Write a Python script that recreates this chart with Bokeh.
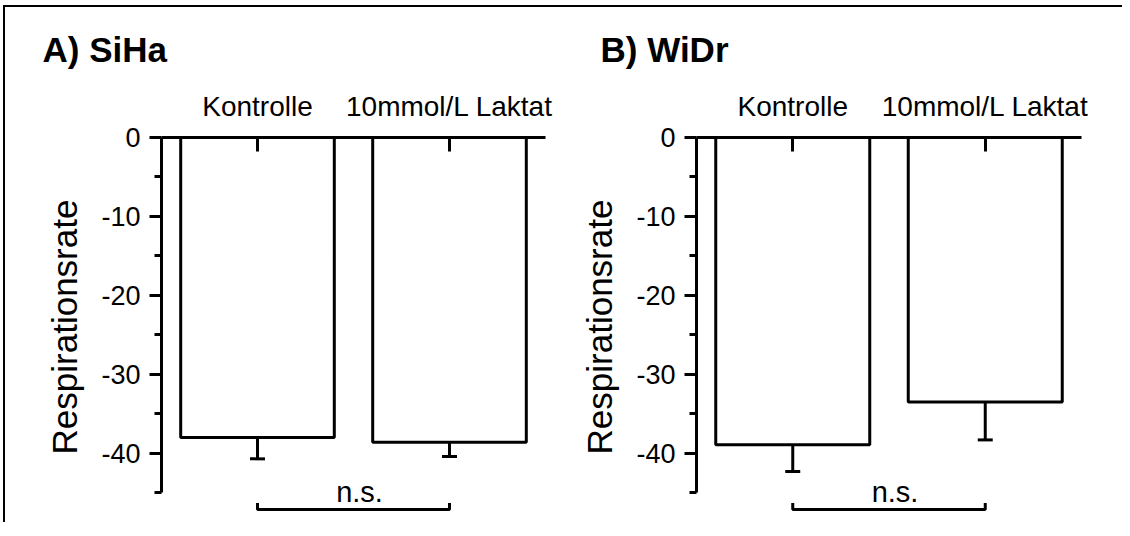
from bokeh.plotting import figure
from bokeh.models import Range1d, FixedTicker, Whisker, TeeHead, ColumnDataSource
from bokeh.layouts import row
from bokeh.transform import dodge
from bokeh.core.properties import value
from bokeh.embed import file_html
from bokeh.resources import INLINE

# ---- data ----
categories = ["Kontrolle", "10mmol/L Laktat"]
siha_values = [-38.0, -38.6]
siha_errors = [2.7, 1.8]
widr_values = [-38.9, -33.5]
widr_errors = [3.4, 4.8]
y_ticks = [0, -10, -20, -30, -40]
y_tick_labels = ["0", "-10", "-20", "-30", "-40"]
y_minor_ticks = [-5, -15, -25, -35, -45]
panel_titles = ["A) SiHa", "B) WiDr"]
y_label = "Respirationsrate"
significance = "n.s."

FONT = "Liberation Sans"
LW = 3


def make_panel(title, values, errors, width, border_left, border_right, title_offset):
    p = figure(x_range=categories, y_range=Range1d(-48, 0),
               width=width, height=515,
               min_border_left=border_left, min_border_right=border_right,
               min_border_top=130, min_border_bottom=6,
               x_axis_location="above",
               output_backend="svg", toolbar_location=None)
    p.outline_line_color = None
    p.xgrid.visible = False
    p.ygrid.visible = False
    p.background_fill_color = "white"
    p.border_fill_color = "white"

    p.title.text = title
    p.title.text_font = FONT
    p.title.text_font_size = "35px"
    p.title.text_font_style = "bold"
    p.title.text_color = "black"
    p.title.align = "left"
    p.title.offset = title_offset
    p.title.standoff = 38

    xa = p.xaxis[0]
    xa.axis_line_width = LW
    xa.major_tick_line_width = LW
    xa.major_tick_in = 14
    xa.major_tick_out = 0
    xa.minor_tick_line_color = None
    xa.major_label_text_font = FONT
    xa.major_label_text_font_size = "28px"
    xa.major_label_text_color = "black"
    xa.major_label_standoff = 16

    ya = p.yaxis[0]
    ya.bounds = (-45, 0)
    ya.ticker = FixedTicker(ticks=y_ticks, minor_ticks=y_minor_ticks)
    ya.major_label_overrides = dict(zip(y_ticks, y_tick_labels))
    ya.axis_line_width = LW
    ya.major_tick_line_width = LW
    ya.minor_tick_line_width = LW
    ya.major_tick_in = 0
    ya.major_tick_out = 12
    ya.minor_tick_in = 0
    ya.minor_tick_out = 7
    ya.major_label_text_font = FONT
    ya.major_label_text_font_size = "27px"
    ya.major_label_text_color = "black"
    ya.major_label_standoff = 9
    ya.axis_label = y_label
    ya.axis_label_text_font = FONT
    ya.axis_label_text_font_size = "35px"
    ya.axis_label_text_font_style = "normal"
    ya.axis_label_text_color = "black"
    ya.axis_label_standoff = 14

    lower = [v - e for v, e in zip(values, errors)]
    src = ColumnDataSource(dict(x=categories, top=[0] * len(values), bottom=values,
                                lower=lower))
    p.vbar(x="x", top="top", bottom="bottom", width=0.8, source=src,
           fill_color="white", line_color="black", line_width=LW)
    p.add_layout(Whisker(base="x", upper="bottom", lower="lower", source=src,
                         dimension="height", line_width=LW, line_color="black",
                         upper_head=None,
                         lower_head=TeeHead(size=15, line_width=LW, line_color="black")))

    # significance bracket between the two groups
    p.line(x=[categories[0], categories[0], categories[1], categories[1]],
           y=[-46.3, -47.1, -47.1, -46.3], line_color="black", line_width=LW)
    tsrc = ColumnDataSource(dict(x=[categories[0]], y=[-44.9], t=[significance]))
    p.text(x=dodge("x", 0.5, range=p.x_range), y="y", text="t", source=tsrc,
           text_font=value(FONT), text_font_size="29px", text_align="center",
           text_baseline="alphabetic", x_offset=6, text_color="black")
    return p


p1 = make_panel(panel_titles[0], siha_values, siha_errors, 550, 156, 10, -119)
p2 = make_panel(panel_titles[1], widr_values, widr_errors, 567, 141, 41, -96)

layout = row(p1, p2, styles={"border-top": "2px solid black",
                             "border-left": "2px solid black",
                             "margin-left": "3px",
                             "margin-top": "5px"})

open("out.html", "w").write(file_html(layout, INLINE))
